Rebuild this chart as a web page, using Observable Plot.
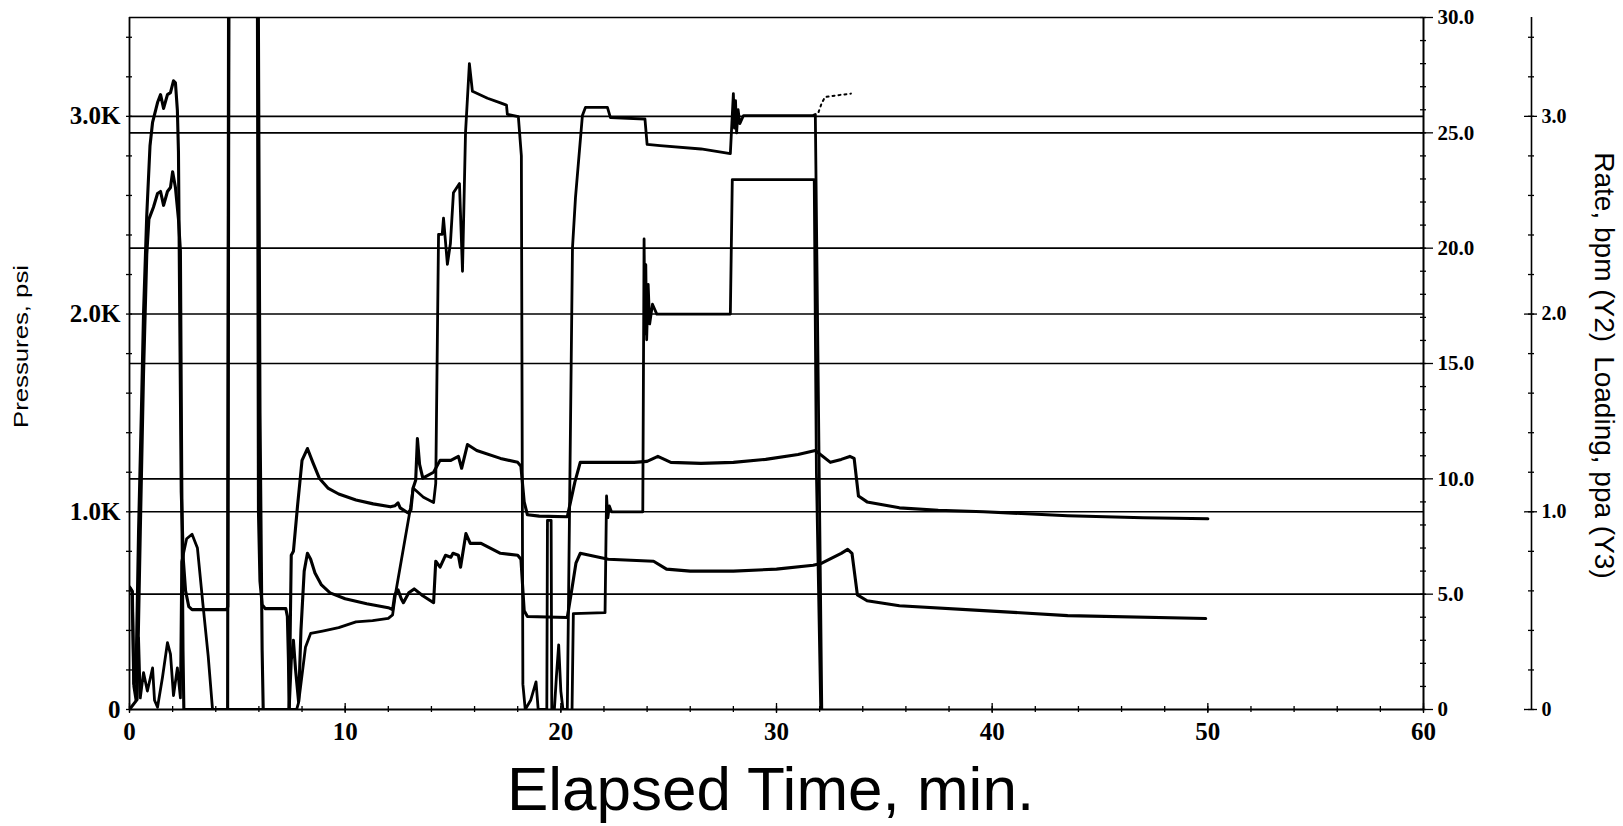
<!DOCTYPE html>
<html>
<head>
<meta charset="utf-8">
<script src="https://cdn.jsdelivr.net/npm/d3@7"></script>
<script src="https://cdn.jsdelivr.net/npm/@observablehq/plot@0.6"></script>
<style>
  html, body { margin: 0; padding: 0; background: #fff; }
  #chart svg { display: block; }
</style>
</head>
<body>
<div id="chart"></div>
<script>
// ---------------- DATA ----------------
// time in minutes, pressure in psi
const treatingPressure = [
  [0.00,620],[0.12,600],[0.20,130],[0.30,160],[0.42,900],[0.55,1500],[0.65,2000],[0.80,2500],
  [0.95,2850],[1.07,2970],[1.30,3070],[1.44,3110],[1.58,3040],[1.76,3110],[1.90,3120],[2.04,3180],
  [2.13,3170],[2.22,3030],[2.27,2820],[2.33,2000],[2.40,1100],[2.50,750],[2.60,600],[2.75,520],
  [2.90,505],[4.50,505],[4.56,520],[4.62,4200],[5.92,4200],[5.98,1000],[6.05,650],[6.15,530],
  [6.30,510],[7.25,510],[7.32,470],[7.37,250],[7.40,0],[7.44,300],[7.50,780],[7.60,800],
  [7.80,1040],[8.00,1260],[8.25,1320],[8.50,1250],[8.80,1170],[9.20,1120],[9.70,1090],[10.50,1060],
  [11.30,1040],[12.10,1025],[12.30,1030],[12.45,1045],[12.55,1020],[12.90,995],[13.05,1010],[13.15,1120],
  [13.27,1160],[13.35,1370],[13.45,1240],[13.60,1170],[14.10,1200],[14.40,1260],[14.90,1260],[15.25,1280],
  [15.40,1220],[15.67,1340],[16.10,1310],[17.20,1270],[18.00,1250],[18.15,1230],[18.30,1050],[18.45,985],
  [19.00,978],[20.30,975],[20.45,1050],[20.65,1150],[20.90,1250],[22.00,1250],[23.40,1250],[24.00,1255],
  [24.50,1280],[25.10,1250],[26.50,1245],[28.00,1250],[29.50,1265],[31.00,1290],[31.80,1310],[32.50,1250],
  [33.00,1265],[33.40,1280],[33.60,1270],[33.80,1080],[34.20,1050],[35.70,1020],[37.50,1008],[39.60,1000],
  [43.50,980],[47.00,970],[50.00,965]
];
const annulusPressure = [
  [0.00,0],[0.35,50],[0.50,900],[0.65,1700],[0.80,2300],[0.90,2480],[1.11,2540],[1.30,2610],
  [1.44,2620],[1.58,2550],[1.76,2620],[1.90,2640],[2.00,2720],[2.13,2640],[2.27,2480],[2.36,2320],
  [2.42,1200],[2.48,300],[2.52,0],[4.55,0],[4.60,4200],[5.95,4200],[6.05,1500],[6.15,300],
  [6.20,0],[7.40,0],[7.50,250],[7.60,350],[7.70,200],[7.84,40],[7.95,400],[8.10,700],
  [8.25,790],[8.40,760],[8.60,690],[8.90,630],[9.30,590],[10.00,560],[11.00,535],[12.00,515],
  [12.20,505],[12.30,580],[12.45,605],[12.60,560],[12.70,540],[12.95,590],[13.20,610],[13.60,575],
  [14.10,540],[14.20,750],[14.40,720],[14.65,780],[14.90,770],[15.00,790],[15.25,780],[15.35,720],
  [15.60,890],[15.80,840],[16.30,840],[17.20,790],[18.00,780],[18.15,760],[18.30,500],[18.45,470],
  [20.30,465],[20.50,600],[20.70,740],[20.90,790],[22.20,760],[24.30,750],[24.90,710],[26.00,700],
  [28.00,700],[30.00,710],[31.70,730],[32.10,740],[33.00,790],[33.30,810],[33.50,790],[33.75,580],
  [34.20,550],[35.70,525],[39.60,500],[43.50,475],[49.90,460]
];
// rate in bpm (right axis Y2)
const slurryRate = [
  [0.00,5.3],[0.14,5.1],[0.20,1.0],[0.30,0.4],[0.42,3.1],[0.50,0.5],[0.65,1.6],[0.83,0.8],
  [1.07,1.8],[1.16,0.4],[1.30,0.1],[1.53,1.4],[1.76,2.9],[1.90,2.4],[2.04,0.6],[2.22,1.8],
  [2.36,0.5],[2.42,6.4],[2.65,7.4],[2.90,7.6],[3.15,7.0],[3.40,4.6],[3.65,2.3],[3.85,0],
  [7.75,0],[7.84,0.3],[8.16,2.7],[8.40,3.3],[8.95,3.4],[9.70,3.55],[10.50,3.8],[11.27,3.85],
  [12.00,3.95],[12.20,4.1],[12.33,5.0],[13.03,8.75],[13.15,9.6],[13.63,9.2],[14.10,8.97],[14.20,9.8],
  [14.33,20.6],[14.50,20.6],[14.56,21.3],[14.74,19.3],[14.88,20.2],[15.02,22.4],[15.30,22.8],[15.44,19.0],
  [15.58,25.0],[15.76,28.0],[15.90,26.8],[16.60,26.5],[17.20,26.3],[17.48,26.2],[17.52,25.8],[18.03,25.7],
  [18.17,24.0],[18.24,1.1],[18.35,0],[18.60,0.4],[18.85,1.2],[18.95,0],[19.35,0],[19.38,8.2],
  [19.55,8.2],[19.58,0],[19.70,0],[19.80,1.5],[19.90,2.8],[20.00,0.8],[20.10,0],[20.30,0],
  [20.54,20.0],[20.68,22.2],[21.00,25.75],[21.14,26.1],[22.16,26.1],[22.30,25.66],[23.90,25.6],[24.00,24.5],
  [24.60,24.45],[26.50,24.3],[27.86,24.1],[28.00,26.7],[28.05,25.2],[28.10,26.4],[28.15,25.0],[28.22,26.0],
  [28.30,25.4],[28.47,25.75],[31.70,25.75],[31.80,25.8],[32.10,0]
];
const rateTailDotted = [
  [31.95,25.9],[32.10,26.3],[32.25,26.55],[32.60,26.6],[33.00,26.65],[33.45,26.7]
];
// proppant loading in ppa (right axis Y3)
const propLoading = [
  [20.52,0],[20.58,0.485],[22.05,0.49],[22.12,1.08],[22.18,0.97],[22.25,1.03],[22.35,1.0],[23.80,1.0],
  [23.86,2.38],[23.90,1.9],[23.94,2.25],[23.98,1.87],[24.05,2.15],[24.12,1.95],[24.25,2.05],[24.45,2.0],
  [27.86,2.0],[27.95,2.68],[31.75,2.68],[31.85,1.2],[32.05,0]
];

// axes / tick values
const xTicks = [0, 10, 20, 30, 40, 50, 60];
const xMinorTicks = d3.range(0, 61, 2);
const pressureTicks = [0, 1000, 2000, 3000];
const pressureMinorTicks = d3.range(0, 3501, 200);
const rateTicks = [0, 5, 10, 15, 20, 25, 30];
const rateMinorTicks = d3.range(0, 31, 1);
const loadingTicks = [0, 1, 2, 3];
const loadingMinorTicks = d3.range(0, 3.51, 0.2);

const xLabel = "Elapsed Time, min.";
const yLabel = "Pressures, psi";
const y2y3Label = "Rate, bpm (Y2)\u2002Loading, ppa (Y3)";

// ---------------- CHART ----------------
const W = 1623, H = 826;
const mL = 129, mR = 200, mT = 17, mB = 117;
const frameW = W - mL - mR, frameH = H - mT - mB;
const PSI_MAX = 3500, RATE_MAX = 30;
const PSI_PER_BPM = PSI_MAX / RATE_MAX;
const PSI_PER_PPA = 1000;
const y3OffsetPx = 108;                                  // Y3 axis distance right of the frame
const loadingAxisAt = 60 + y3OffsetPx * 60 / frameW;     // same position in x-scale units

const serif = "'Liberation Serif','Times New Roman',serif";
const sans = "'Liberation Sans',Arial,Helvetica,sans-serif";
const fmtK = d => d === 0 ? "0" : (d / 1000).toFixed(1) + "K";
const fmtRate = d => { const v = d / PSI_PER_BPM; return Math.abs(v) < 1e-9 ? "0" : v.toFixed(1); };
const fmtLoad = d => { const v = d / PSI_PER_PPA; return Math.abs(v) < 1e-9 ? "0" : v.toFixed(1); };
const line = (data, f, extra = {}) => Plot.line(data, {
  x: d => d[0], y: d => d[1] * f, stroke: "black", strokeWidth: 3.1, clip: true, ...extra
});
const tickStyle = {stroke: "black", strokeWidth: 1.3};

const chart = Plot.plot({
  width: W,
  height: H,
  marginLeft: mL,
  marginRight: mR,
  marginTop: mT,
  marginBottom: mB,
  x: {domain: [0, 60]},
  y: {domain: [0, PSI_MAX]},
  style: {background: "white", color: "black", fontFamily: sans},
  marks: [
    // horizontal grid lines (pressure ticks and rate ticks)
    Plot.ruleY(pressureTicks.filter(d => d > 0), {stroke: "black", strokeWidth: 1.6}),
    Plot.ruleY(rateTicks.filter(d => d > 0 && d < RATE_MAX), {y: d => d * PSI_PER_BPM, stroke: "black", strokeWidth: 1.6}),
    // frame
    Plot.ruleY([0], {stroke: "black", strokeWidth: 2.2}),
    Plot.ruleY([PSI_MAX], {stroke: "black", strokeWidth: 1.6}),
    Plot.ruleX([0], {stroke: "black", strokeWidth: 1.8}),
    Plot.ruleX([60], {stroke: "black", strokeWidth: 2}),
    Plot.ruleX([loadingAxisAt], {stroke: "black", strokeWidth: 1.6}),

    // bottom axis: minor ticks every 2 min, major at 10, labels
    Plot.ruleX(xMinorTicks, {x: d => d, insetTop: frameH - 3, insetBottom: -3, ...tickStyle}),
    Plot.ruleX(xTicks, {x: d => d, insetTop: frameH - 6, insetBottom: -4, ...tickStyle}),
    Plot.axisX({ticks: xTicks, tickSize: 0, tickPadding: 13, tickFormat: d => String(d),
      fontSize: 25, fontWeight: "bold", fontFamily: serif, label: null}),

    // left pressure axis
    Plot.ruleY(pressureMinorTicks, {y: d => d, insetLeft: -3, insetRight: frameW - 3, ...tickStyle}),
    Plot.axisY({ticks: pressureTicks, anchor: "left", tickSize: 0, tickPadding: 9, tickFormat: fmtK,
      fontSize: 25, fontWeight: "bold", fontFamily: serif, label: null}),

    // right rate axis (Y2)
    Plot.ruleY(rateMinorTicks, {y: d => d * PSI_PER_BPM, insetLeft: frameW - 3, insetRight: -3, ...tickStyle}),
    Plot.ruleY(rateTicks, {y: d => d * PSI_PER_BPM, insetLeft: frameW, insetRight: -10, ...tickStyle}),
    Plot.axisY({ticks: rateTicks.map(d => d * PSI_PER_BPM), anchor: "right", tickSize: 0, tickPadding: 14,
      tickFormat: fmtRate, fontSize: 21, fontWeight: "bold", fontFamily: serif, label: null}),

    // far right loading axis (Y3)
    Plot.ruleY(loadingMinorTicks, {y: d => d * PSI_PER_PPA,
      insetLeft: frameW + y3OffsetPx - 3, insetRight: -(y3OffsetPx + 3), ...tickStyle}),
    Plot.ruleY(loadingTicks, {y: d => d * PSI_PER_PPA,
      insetLeft: frameW + y3OffsetPx - 7, insetRight: -(y3OffsetPx + 6), ...tickStyle}),
    Plot.axisY({ticks: loadingTicks.map(d => d * PSI_PER_PPA), anchor: "right", dx: y3OffsetPx, tickSize: 0,
      tickPadding: 10, tickFormat: fmtLoad, fontSize: 20, fontWeight: "bold", fontFamily: serif, label: null}),

    // data curves
    line(annulusPressure, 1),
    line(treatingPressure, 1),
    line(propLoading, PSI_PER_PPA, {strokeWidth: 2.8}),
    line(slurryRate, PSI_PER_BPM, {strokeWidth: 2.8}),
    line(rateTailDotted, PSI_PER_BPM, {strokeWidth: 2, strokeDasharray: "2,4"}),

    // axis titles
    Plot.text([xLabel], {text: d => d, frameAnchor: "bottom", lineAnchor: "middle", textAnchor: "middle",
      dx: -6, dy: 81, fontSize: 62, fontFamily: sans, fill: "black"}),
    Plot.text([yLabel], {text: d => d, frameAnchor: "left", lineAnchor: "middle", textAnchor: "middle",
      dx: -108, dy: -17, rotate: -90, fontSize: 20, fontFamily: sans, fill: "black"}),
    Plot.text([y2y3Label], {text: d => d, frameAnchor: "right", lineAnchor: "middle", textAnchor: "middle",
      dx: 180, dy: 2, rotate: 90, fontSize: 28, fontFamily: sans, fill: "black"})
  ]
});

// the scanned left title is drawn slightly stretched along its length
d3.select(chart).selectAll("text")
  .filter(function () { return this.textContent === yLabel; })
  .attr("textLength", 163)
  .attr("lengthAdjust", "spacingAndGlyphs");

document.getElementById("chart").appendChild(chart);
</script>
</body>
</html>
